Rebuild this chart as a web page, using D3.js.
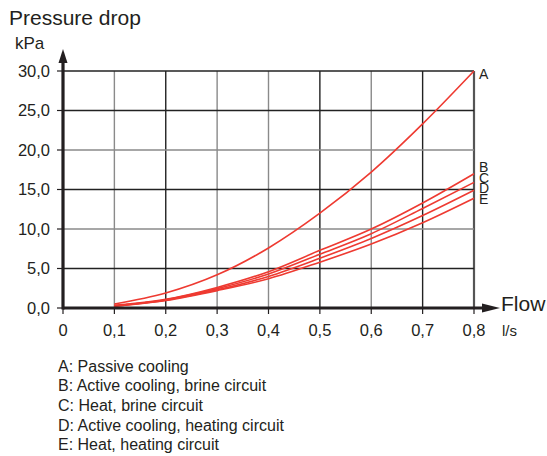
<!DOCTYPE html>
<html>
<head>
<meta charset="utf-8">
<script src="https://cdn.jsdelivr.net/npm/d3@7"></script>
<style>
  body { margin: 0; background: #fff; }
  text { font-family: "Liberation Sans", Arial, Helvetica, sans-serif; fill: #231f20; }
</style>
</head>
<body>
<div id="viz"></div>
<script>
var width = 547,
  height = 456;

// data
var flow = [0.1, 0.2, 0.3, 0.4, 0.5, 0.6, 0.7, 0.8];
var curveA = [0.5, 1.9, 4.2, 7.6, 12.0, 17.2, 23.3, 30.0];
var curveB = [0.35, 1.1, 2.6, 4.6, 7.3, 10.0, 13.3, 17.0];
var curveC = [0.3, 1.05, 2.45, 4.3, 6.8, 9.4, 12.6, 15.9];
var curveD = [0.25, 1.0, 2.3, 4.0, 6.3, 8.8, 11.7, 14.9];
var curveE = [0.2, 0.95, 2.2, 3.7, 5.8, 8.1, 10.8, 13.9];
var curveNames = ['A', 'B', 'C', 'D', 'E'];
var legendLabels = [
  'A: Passive cooling',
  'B: Active cooling, brine circuit',
  'C: Heat, brine circuit',
  'D: Active cooling, heating circuit',
  'E: Heat, heating circuit'
];
var xTicks = [0, 0.1, 0.2, 0.3, 0.4, 0.5, 0.6, 0.7, 0.8];
var yTicks = [0, 5, 10, 15, 20, 25, 30];

var series = [curveA, curveB, curveC, curveD, curveE].map(function (vals, i) {
  return { name: curveNames[i], values: vals.map(function (v, j) { return { x: flow[j], y: v }; }) };
});

var x = d3.scaleLinear().domain([0, 0.8]).range([63, 474]);
var y = d3.scaleLinear().domain([0, 30]).range([308, 71]);

var comma = function (d, digits) { return d3.format('.' + digits + 'f')(d).replace('.', ','); };

var svg = d3.select('#viz').append('svg')
  .attr('width', width)
  .attr('height', height);

// grid
var lightX = [0.1, 0.3, 0.4, 0.6];
var lightY = [10, 20];
svg.append('g').selectAll('line')
  .data(xTicks.filter(function (d) { return d > 0; }))
  .enter().append('line')
  .attr('x1', function (d) { return x(d); })
  .attr('x2', function (d) { return x(d); })
  .attr('y1', y(30))
  .attr('y2', y(0))
  .attr('stroke', function (d) { return d === 0.8 ? '#555' : (lightX.indexOf(d) >= 0 ? '#8a8a8a' : '#222'); })
  .attr('stroke-width', function (d) { return d === 0.8 ? 2.2 : 1.4; });

svg.append('g').selectAll('line')
  .data(yTicks.filter(function (d) { return d > 0; }))
  .enter().append('line')
  .attr('x1', x(0))
  .attr('x2', x(0.8))
  .attr('y1', function (d) { return y(d); })
  .attr('y2', function (d) { return y(d); })
  .attr('stroke', function (d) { return lightY.indexOf(d) >= 0 ? '#8a8a8a' : '#222'; })
  .attr('stroke-width', 1.4);

// curves
var line = d3.line()
  .x(function (d) { return x(d.x); })
  .y(function (d) { return y(d.y); })
  .curve(d3.curveMonotoneX);

svg.append('g').selectAll('path')
  .data(series)
  .enter().append('path')
  .attr('d', function (d) { return line(d.values); })
  .attr('fill', 'none')
  .attr('stroke', '#ee3a31')
  .attr('stroke-width', 1.6);

// axes
svg.append('line')
  .attr('x1', x(0)).attr('x2', 484)
  .attr('y1', y(0)).attr('y2', y(0))
  .attr('stroke', '#231f20').attr('stroke-width', 3.2);
svg.append('path')
  .attr('d', 'M482,' + (y(0) - 4.5) + 'L500,' + y(0) + 'L482,' + (y(0) + 4.5) + 'Z')
  .attr('fill', '#231f20');

svg.append('line')
  .attr('x1', x(0)).attr('x2', x(0))
  .attr('y1', y(0) + 1.5).attr('y2', 61)
  .attr('stroke', '#231f20').attr('stroke-width', 3.2);
svg.append('path')
  .attr('d', 'M' + (x(0) - 4.5) + ',63L' + x(0) + ',49L' + (x(0) + 4.5) + ',63Z')
  .attr('fill', '#231f20');

// tick marks
svg.append('g').selectAll('line')
  .data(yTicks)
  .enter().append('line')
  .attr('x1', x(0) - 6).attr('x2', x(0))
  .attr('y1', function (d) { return y(d); })
  .attr('y2', function (d) { return y(d); })
  .attr('stroke', '#231f20').attr('stroke-width', 1.2);

svg.append('g').selectAll('line')
  .data(xTicks)
  .enter().append('line')
  .attr('x1', function (d) { return x(d); })
  .attr('x2', function (d) { return x(d); })
  .attr('y1', y(0)).attr('y2', y(0) + 6)
  .attr('stroke', '#231f20').attr('stroke-width', 1.2);

// tick labels
svg.append('g').selectAll('text')
  .data(yTicks)
  .enter().append('text')
  .attr('x', 50)
  .attr('y', function (d) { return y(d) + 5.5; })
  .attr('text-anchor', 'end')
  .style('font-size', '16.5px')
  .text(function (d) { return comma(d, 1); });

svg.append('g').selectAll('text')
  .data(xTicks)
  .enter().append('text')
  .attr('x', function (d) { return x(d); })
  .attr('y', 336)
  .attr('text-anchor', 'middle')
  .style('font-size', '16.5px')
  .text(function (d) { return d === 0 ? '0' : comma(d, 1); });

// axis titles
svg.append('text').attr('x', 9).attr('y', 25).style('font-size', '21px').text('Pressure drop');
svg.append('text').attr('x', 15).attr('y', 49).style('font-size', '17px').text('kPa');
svg.append('text').attr('x', 501).attr('y', 311).style('font-size', '21px').text('Flow');
svg.append('text').attr('x', 502).attr('y', 336).style('font-size', '15px').text('l/s');

// curve letters
var letterY = [79, 172, 182.5, 193, 204];
svg.append('g').selectAll('text')
  .data(curveNames)
  .enter().append('text')
  .attr('x', 479)
  .attr('y', function (d, i) { return letterY[i]; })
  .style('font-size', '14px')
  .text(function (d) { return d; });

// legend
svg.append('g').selectAll('text')
  .data(legendLabels)
  .enter().append('text')
  .attr('x', 58)
  .attr('y', function (d, i) { return 371.5 + i * 19.7; })
  .style('font-size', '16px')
  .text(function (d) { return d; });
</script>
</body>
</html>
